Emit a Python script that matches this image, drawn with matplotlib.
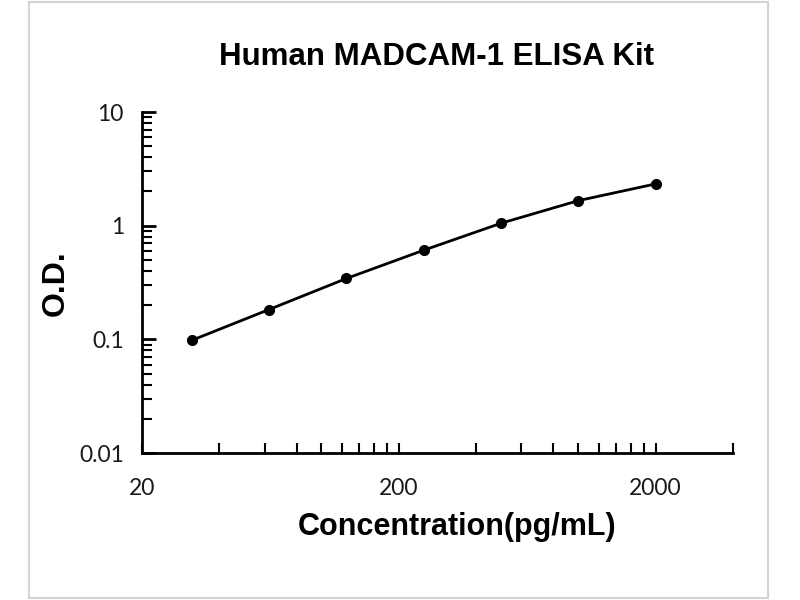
import matplotlib
matplotlib.use("Agg")
import matplotlib.pyplot as plt
from matplotlib.ticker import FixedLocator, NullFormatter
from matplotlib.patches import Rectangle

# standard curve
conc = [31.25, 62.5, 125, 250, 500, 1000, 2000]
od = [0.098, 0.183, 0.343, 0.608, 1.05, 1.66, 2.33]

x_major = [20, 200, 2000]
x_minor = [40, 60, 80, 100, 120, 140, 160, 180,
           400, 600, 800, 1000, 1200, 1400, 1600, 1800, 4000]
y_major = [0.01, 0.1, 1, 10]
y_labels = ["0.01", "0.1", "1", "10"]

title = "Human MADCAM-1 ELISA Kit"
xlabel = "Concentration(pg/mL)"
ylabel = "O.D."

fig = plt.figure(figsize=(8, 6), dpi=100)
ax = fig.add_axes([0.1775, 0.245, 0.916 - 0.1775, 0.8133 - 0.245])

# light grey frame round the picture
fig.patches.append(Rectangle((29 / 800, 2 / 600), (768 - 29) / 800, (598 - 2) / 600,
                             transform=fig.transFigure, fill=False,
                             edgecolor="#d4d4d4", linewidth=1.5))

ax.plot(conc, od, color="black", linewidth=2, marker="o", markersize=7,
        markerfacecolor="black", markeredgecolor="black")

ax.set_xscale("log")
ax.set_yscale("log")
ax.set_xlim(20, 4000)
ax.set_ylim(0.01, 10)

ax.xaxis.set_major_locator(FixedLocator(x_major))
ax.xaxis.set_minor_locator(FixedLocator(x_minor))
ax.set_xticklabels([str(v) for v in x_major])
ax.xaxis.set_minor_formatter(NullFormatter())

ax.yaxis.set_major_locator(FixedLocator(y_major))
ax.set_yticklabels(y_labels)
y_minor = [m * d for d in [0.01, 0.1, 1] for m in range(2, 10)]
ax.yaxis.set_minor_locator(FixedLocator(y_minor))
ax.yaxis.set_minor_formatter(NullFormatter())

for s in ["top", "right"]:
    ax.spines[s].set_visible(False)
for s in ["left", "bottom"]:
    ax.spines[s].set_linewidth(2)

ax.tick_params(axis="y", which="major", direction="in", length=10, width=2, pad=13)
ax.tick_params(axis="y", which="minor", direction="in", length=7, width=1.5)
ax.tick_params(axis="x", which="both", direction="in", length=7, width=1.5, pad=18)

for lab in ax.get_xticklabels() + ax.get_yticklabels():
    lab.set_fontfamily("Lato")
    lab.set_fontsize(16.5)
    lab.set_color("#1a1a1a")

fig.text(0.546, 0.905, title, ha="center", va="center", fontsize=22.5,
         fontweight="bold", family="Liberation Sans")
fig.text(0.571, 0.122, xlabel, ha="center", va="center", fontsize=22,
         fontweight="bold", family="Liberation Sans")
fig.text(0.07, 0.5275, ylabel, ha="center", va="center", fontsize=23,
         fontweight="bold", family="Liberation Sans", rotation=90)

fig.savefig("out.png", dpi=100)
